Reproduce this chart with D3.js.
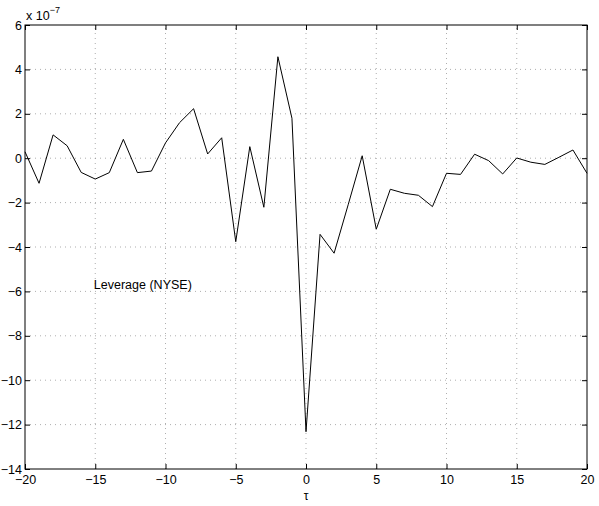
<!DOCTYPE html>
<html>
<head>
<meta charset="utf-8">
<script src="https://cdn.jsdelivr.net/npm/d3@7"></script>
<style>
  body { margin: 0; background: #fff; }
  svg text { font-family: "Liberation Sans", Arial, Helvetica, sans-serif; font-size: 12.5px; fill: #000; }
</style>
</head>
<body>
<div id="chart"></div>
<script>
// lag values tau = -20..20
const taus = d3.range(-20, 21);
// leverage correlation, units of 1e-7
const leverage = [
  0.29, -1.13, 1.05, 0.56, -0.64, -0.94, -0.65, 0.85, -0.65, -0.58,
  0.69, 1.6, 2.23, 0.19, 0.92, -3.76, 0.52, -2.21, 4.57, 1.8,
  -12.32, -3.43, -4.28, -2.1, 0.11, -3.2, -1.4, -1.58, -1.67, -2.18,
  -0.68, -0.73, 0.18, -0.11, -0.71, 0.01, -0.18, -0.28, 0.04, 0.37,
  -0.68
];
const xTicks = [-20, -15, -10, -5, 0, 5, 10, 15, 20];
const yTicks = [-14, -12, -10, -8, -6, -4, -2, 0, 2, 4, 6];

const width = 599, height = 506;
const margin = { top: 25, right: 12, bottom: 37, left: 25 };
const innerW = width - margin.left - margin.right;
const innerH = height - margin.top - margin.bottom;

const svg = d3.select("#chart").append("svg")
    .attr("width", width)
    .attr("height", height);

const x = d3.scaleLinear().domain([-20, 20]).range([margin.left, margin.left + innerW]);
const y = d3.scaleLinear().domain([-14, 6]).range([margin.top + innerH, margin.top]);

const fmt = d => d < 0 ? "\u2212" + Math.abs(d) : d;

// dotted grid
const grid = svg.append("g").attr("stroke", "#777").attr("stroke-width", 0.6).attr("stroke-dasharray", "1,4");
grid.selectAll("line.gx")
    .data(xTicks.slice(1, -1))
    .join("line")
    .attr("x1", d => x(d)).attr("x2", d => x(d))
    .attr("y1", y(-14)).attr("y2", y(6));
grid.selectAll("line.gy")
    .data(yTicks.slice(1, -1))
    .join("line")
    .attr("x1", x(-20)).attr("x2", x(20))
    .attr("y1", d => y(d)).attr("y2", d => y(d));

// axes, ticks inward like matlab
const tickLen = 5;
svg.append("g")
    .attr("transform", `translate(0,${y(-14)})`)
    .call(d3.axisBottom(x).tickValues(xTicks).tickSizeInner(-tickLen).tickSizeOuter(0).tickPadding(6).tickFormat(fmt))
    .call(g => g.select(".domain").remove());
svg.append("g")
    .attr("transform", `translate(0,${y(6)})`)
    .call(d3.axisTop(x).tickValues(xTicks).tickSizeInner(-tickLen).tickSizeOuter(0).tickFormat(""))
    .call(g => g.select(".domain").remove());
svg.append("g")
    .attr("transform", `translate(${x(-20)},0)`)
    .call(d3.axisLeft(y).tickValues(yTicks).tickSizeInner(-tickLen).tickSizeOuter(0).tickPadding(3).tickFormat(fmt))
    .call(g => g.select(".domain").remove());
svg.append("g")
    .attr("transform", `translate(${x(20)},0)`)
    .call(d3.axisRight(y).tickValues(yTicks).tickSizeInner(-tickLen).tickSizeOuter(0).tickFormat(""))
    .call(g => g.select(".domain").remove());

svg.selectAll(".tick text").style("font-size", "12.5px").style("font-family", "'Liberation Sans', Arial, sans-serif");
svg.selectAll(".tick line").attr("stroke", "#000");

// box
svg.append("rect")
    .attr("x", x(-20)).attr("y", y(6))
    .attr("width", x(20) - x(-20)).attr("height", y(-14) - y(6))
    .attr("fill", "none").attr("stroke", "#000").attr("stroke-width", 1);

// series line
const line = d3.line().x((d, i) => x(taus[i])).y(d => y(d));
svg.append("path")
    .datum(leverage)
    .attr("d", line)
    .attr("fill", "none")
    .attr("stroke", "#000")
    .attr("stroke-width", 1);

// exponent label
const exp = svg.append("text").attr("x", x(-20) + 1).attr("y", 20);
exp.append("tspan").text("x 10");
exp.append("tspan").attr("dy", -7).style("font-size", "9px").text("\u22127");

svg.append("text")
    .attr("x", x(-15.1)).attr("y", y(-5.9))
    .text("Leverage (NYSE)");

svg.append("text")
    .attr("x", x(0)).attr("y", 500)
    .attr("text-anchor", "middle")
    .style("font-size", "12px")
    .text("\u03c4");
</script>
</body>
</html>
